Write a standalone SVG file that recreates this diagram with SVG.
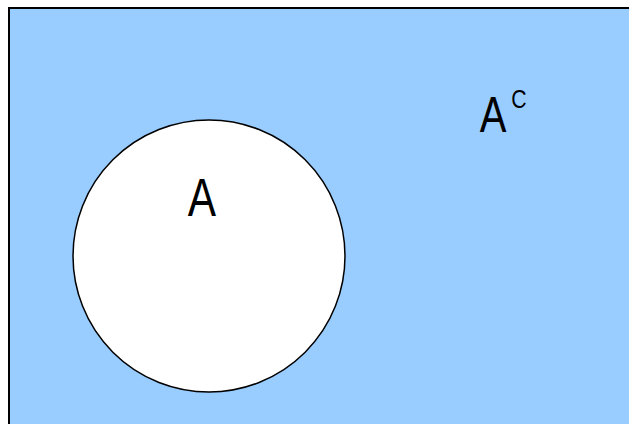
<svg xmlns="http://www.w3.org/2000/svg" width="629" height="424" viewBox="0 0 629 424">
<style>
.lbl{font-family:"Liberation Sans",Arial,sans-serif;fill:#000}
</style>
<rect width="629" height="424" fill="#fff"/>
<g id="universe">
<rect x="9" y="8" width="640" height="440" fill="#99CCFF" stroke="#000" stroke-width="2"/>
</g>
<g id="setA">
<circle cx="209" cy="256" r="136" fill="#fff" stroke="#000" stroke-width="1.5"/>
</g>
<g id="labelA">
<text class="lbl" transform="translate(202,216) scale(0.8,1)" font-size="53" text-anchor="middle">A</text>
</g>
<g id="labelAc">
<text class="lbl" transform="translate(493,132) scale(0.8,1)" font-size="50" text-anchor="middle">A</text>
<text class="lbl" transform="translate(519,108) scale(0.85,1)" font-size="25" text-anchor="middle">C</text>
</g>
</svg>
